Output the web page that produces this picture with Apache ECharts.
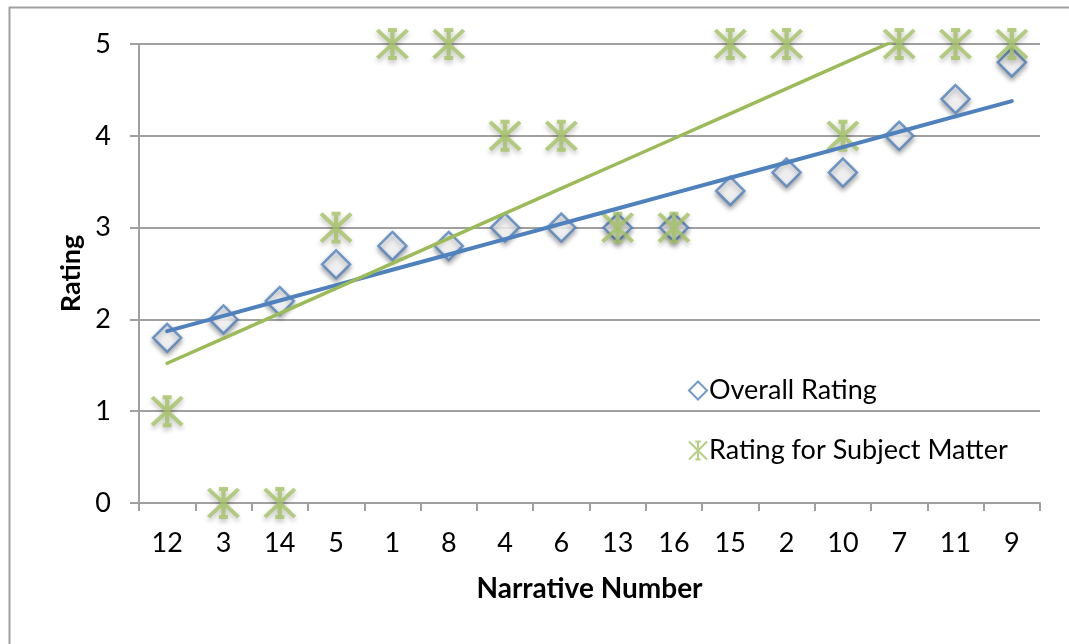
<!DOCTYPE html>
<html>
<head>
<meta charset="utf-8">
<script src="https://cdn.jsdelivr.net/npm/echarts@6/dist/echarts.min.js"></script>
<style>
  html, body { margin: 0; padding: 0; background: #ffffff; }
  #chart { width: 1069px; height: 644px; }
</style>
</head>
<body>
<div id="chart"></div>
<script>
// Narrative numbers, in the order they are plotted
const categories = ['12', '3', '14', '5', '1', '8', '4', '6', '13', '16', '15', '2', '10', '7', '11', '9'];
// Mean overall rating per narrative
const overallRating = [1.8, 2.0, 2.2, 2.6, 2.8, 2.8, 3.0, 3.0, 3.0, 3.0, 3.4, 3.6, 3.6, 4.0, 4.4, 4.8];
// Rating given for the subject matter
const subjectRating = [1, 0, 0, 3, 5, 5, 4, 4, 3, 3, 5, 5, 4, 5, 5, 5];
const yTicks = [0, 1, 2, 3, 4, 5];

const FONT = 'Lato';
const BLUE = '#4f81bd';
const GREEN = '#9bbb59';
const GRID_GREY = '#a0a0a0';

// Least-squares linear trend over category positions 1..n
function linearTrend(values) {
  const n = values.length;
  let sx = 0, sy = 0, sxx = 0, sxy = 0;
  values.forEach((v, i) => {
    const x = i + 1;
    sx += x; sy += v; sxx += x * x; sxy += x * v;
  });
  const slope = (n * sxy - sx * sy) / (n * sxx - sx * sx);
  const intercept = (sy - slope * sx) / n;
  return values.map((_, i) => +(intercept + slope * (i + 1)).toFixed(4));
}

const starPath = 'path://M0,0L20,20M20,0L0,20M10,0L10,20M7,0L13,0M7,20L13,20';

const chart = echarts.init(document.getElementById('chart'), null, { renderer: 'canvas' });

chart.setOption({
  animation: false,
  backgroundColor: '#ffffff',
  textStyle: { fontFamily: FONT },
  graphic: [{
    type: 'rect',
    left: 7, top: 5,
    shape: { width: 1200, height: 800 },
    style: { fill: 'none', stroke: GRID_GREY, lineWidth: 2 },
    silent: true,
    z: -1
  }],
  grid: { left: 139, right: 29, top: 44, bottom: 141, containLabel: false },
  legend: {
    orient: 'vertical',
    left: 683,
    top: 372,
    itemGap: 33,
    itemWidth: 18,
    itemHeight: 18,
    data: ['Overall Rating', 'Rating for Subject Matter'],
    textStyle: { fontFamily: FONT, fontSize: 27, color: '#000', padding: [0, 0, 0, -3] },
    itemStyle: { shadowBlur: 0, shadowColor: 'rgba(0,0,0,0)', shadowOffsetY: 0 }
  },
  xAxis: {
    type: 'category',
    data: categories,
    boundaryGap: true,
    name: 'Narrative Number',
    nameLocation: 'middle',
    nameGap: 72,
    nameTextStyle: { fontFamily: FONT, fontSize: 28, fontWeight: 'bold', color: '#000' },
    axisLine: { show: true, lineStyle: { color: GRID_GREY, width: 2 } },
    axisTick: { show: true, alignWithLabel: false, length: 8, lineStyle: { color: GRID_GREY, width: 2 } },
    axisLabel: { fontFamily: FONT, fontSize: 27, color: '#000', margin: 27, interval: 0 },
    splitLine: { show: false }
  },
  yAxis: {
    type: 'value',
    min: yTicks[0],
    max: yTicks[yTicks.length - 1],
    interval: 1,
    name: 'Rating',
    nameLocation: 'middle',
    nameGap: 54,
    nameRotate: 90,
    nameTextStyle: { fontFamily: FONT, fontSize: 27, fontWeight: 'bold', color: '#000' },
    axisLine: { show: true, lineStyle: { color: GRID_GREY, width: 2 } },
    axisTick: { show: true, length: 9, lineStyle: { color: GRID_GREY, width: 2 } },
    axisLabel: { fontFamily: FONT, fontSize: 27, color: '#000', margin: 28 },
    splitLine: { show: true, lineStyle: { color: GRID_GREY, width: 2 } }
  },
  series: [
    {
      name: 'Overall Rating',
      type: 'scatter',
      data: overallRating,
      symbol: 'diamond',
      symbolSize: [28, 28],
      itemStyle: {
        color: '#ffffff',
        borderColor: BLUE,
        borderWidth: 2.5,
        shadowBlur: 5,
        shadowColor: 'rgba(0,0,0,0.4)',
        shadowOffsetY: 3
      },
      z: 3
    },
    {
      name: 'Rating for Subject Matter',
      type: 'scatter',
      data: subjectRating,
      symbol: starPath,
      symbolSize: [30, 28],
      itemStyle: {
        color: 'rgba(0,0,0,0)',
        borderColor: '#a4c363',
        borderWidth: 4,
        shadowBlur: 5,
        shadowColor: 'rgba(0,0,0,0.3)',
        shadowOffsetY: 3
      },
      z: 4
    },
    {
      name: 'Overall trend',
      type: 'line',
      data: linearTrend(overallRating),
      showSymbol: false,
      symbol: 'none',
      lineStyle: { color: BLUE, width: 4, cap: 'round' },
      clip: true,
      z: 5
    },
    {
      name: 'Subject trend',
      type: 'line',
      data: linearTrend(subjectRating),
      showSymbol: false,
      symbol: 'none',
      lineStyle: { color: GREEN, width: 3.5, cap: 'round' },
      clip: true,
      z: 5
    }
  ]
});
</script>
</body>
</html>
